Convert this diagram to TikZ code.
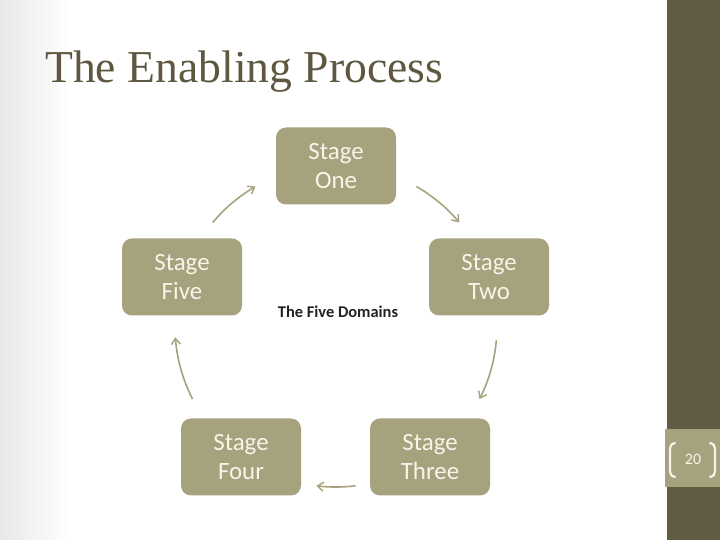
\documentclass[tikz,border=0pt]{standalone}
\usepackage{fontspec}
\usetikzlibrary{arrows.meta,calc}
\newfontfamily\carl{Carlito}
\newfontfamily\titlefont{Liberation Serif}
\definecolor{boxc}{HTML}{A6A27E}
\definecolor{boxtext}{HTML}{F7F5EA}
\definecolor{titlec}{HTML}{5E5840}
\definecolor{barc}{HTML}{625C45}
\definecolor{darktext}{HTML}{222222}
\tikzset{
  stagebox/.style={rectangle, rounded corners=10bp, fill=boxc, minimum width=120bp,
    minimum height=77bp, text=boxtext, align=center, inner sep=0pt,
    font=\carl\fontsize{25}{29}\selectfont},
  cyclearrow/.style={draw=boxc, line width=1.6bp, -{Straight Barb[length=6bp,width=9bp,line width=1.4bp]}},
  bracket/.style={draw=boxtext, line width=2.2bp, line cap=round}
}
\begin{document}
\begin{tikzpicture}[x=1bp,y=1bp]
\useasboundingbox (0,0) rectangle (720,540);
\fill[white] (0,0) rectangle (720,540);
\shade[left color=black!9, right color=white] (0,0) rectangle (70,540);
% right bar
\fill[barc] (667,0) rectangle (720,540);
\fill[boxc] (665,53) rectangle (720,111);
\draw[bracket] (675,97) .. controls (671,96) and (670,94) .. (670,91) -- (670,69) .. controls (670,66) and (671,64) .. (675,63);
\draw[bracket] (710,97) .. controls (714,96) and (715,94) .. (715,91) -- (715,69) .. controls (715,66) and (714,64) .. (710,63);
\node[text=boxtext, font=\carl\fontsize{16}{18}\selectfont] (pagenum) at (693,81) {20};
% title
\node[anchor=base west, inner sep=0pt, text=titlec, font=\titlefont\fontsize{45.8}{54}\selectfont] (title) at (45,457) {The Enabling Process};
% stages
\node[stagebox] (s1) at (336,374) {Stage\\One};
\node[stagebox] (s2) at (489,263) {Stage\\Two};
\node[stagebox] (s3) at (430,83) {Stage\\Three};
\node[stagebox] (s4) at (241,83) {Stage\\Four};
\node[stagebox] (s5) at (182,263) {Stage\\Five};
\node[text=darktext, font=\carl\bfseries\fontsize{16.5}{19}\selectfont] (center) at (338,228) {The Five Domains};
% arrows on circle
\coordinate (c) at (336,214);
\coordinate (a1) at ($(c)+(140:161)$);
\coordinate (a2) at ($(c)+(60:161)$);
\coordinate (a3) at ($(c)+(-5:161)$);
\coordinate (a4) at ($(c)+(-83:161)$);
\coordinate (a5) at ($(c)+(-153:161)$);
\draw[cyclearrow] (a1) arc[start angle=140, end angle=120, radius=161bp];
\draw[cyclearrow] (a2) arc[start angle=60, end angle=40, radius=161bp];
\draw[cyclearrow] (a3) arc[start angle=-5, end angle=-27, radius=161bp];
\draw[cyclearrow] (a4) arc[start angle=-83, end angle=-97, radius=161bp];
\draw[cyclearrow] (a5) arc[start angle=-153, end angle=-176, radius=161bp];
\end{tikzpicture}
\end{document}
